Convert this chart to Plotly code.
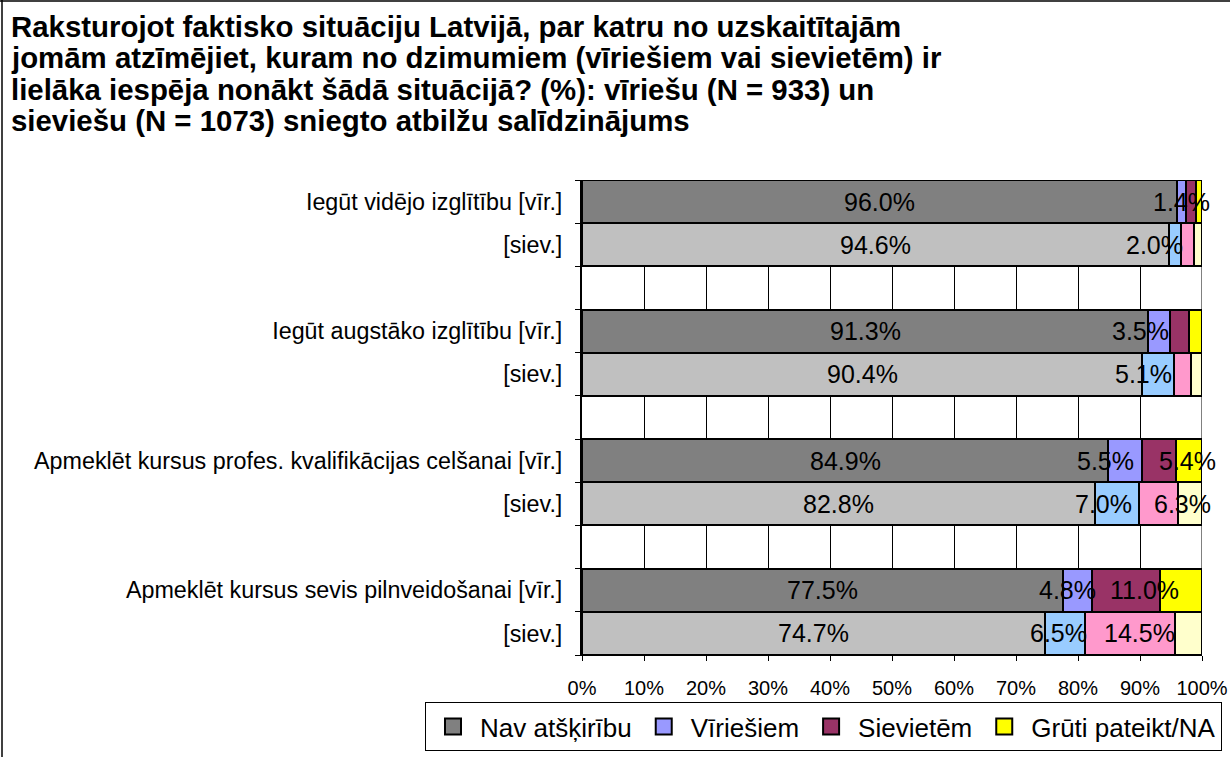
import plotly.graph_objects as go

# ---------------- data ----------------
row_labels = [
    "Iegūt vidējo izglītību [vīr.]", "[siev.]",
    "Iegūt augstāko izglītību [vīr.]", "[siev.]",
    "Apmeklēt kursus profes. kvalifikācijas celšanai [vīr.]", "[siev.]",
    "Apmeklēt kursus sevis pilnveidošanai [vīr.]", "[siev.]",
]
series_names = ["Nav atšķirību", "Vīriešiem", "Sievietēm", "Grūti pateikt/NA"]
nav_atskiribu = [96.0, 94.6, 91.3, 90.4, 84.9, 82.8, 77.5, 74.7]
viriesiem = [1.4, 2.0, 3.5, 5.1, 5.5, 7.0, 4.8, 6.5]
sievietem = [1.6, 2.1, 3.1, 2.7, 5.4, 6.3, 11.0, 14.5]
gruti_pateikt = [1.0, 1.3, 2.1, 1.8, 4.2, 3.9, 6.7, 4.3]
x_ticks = [0, 10, 20, 30, 40, 50, 60, 70, 80, 90, 100]
title_lines = [
    "Raksturojot faktisko situāciju Latvijā, par katru no uzskaitītajām",
    "jomām atzīmējiet, kuram no dzimumiem (vīriešiem vai sievietēm) ir",
    "lielāka iespēja nonākt šādā situācijā? (%): vīriešu (N = 933) un",
    "sieviešu (N = 1073) sniegto atbilžu salīdzinājums",
]

# ---------------- styles ----------------
colors_vir = ["#808080", "#9999FF", "#993366", "#FFFF00"]
colors_siev = ["#C0C0C0", "#99CCFF", "#FF99CC", "#FFFFCC"]
# which series carry data labels (index) and minimum value for display
label_rule = {0: 0.0, 1: 0.0, 2: 5.0}
# small horizontal offsets (px) of labels, as placed in the original
label_shift = {
    1: [0, -20, -18, -15, -20, -14, -10, -7],
    2: [0, 0, 0, 0, 28, 24, 18, 9],
}
FONT = "Liberation Sans, Arial, sans-serif"

L, R, T, B = 582, 28, 180, 102
W, H = 1230, 757
PW, PH = W - L - R, H - T - B


def px_x(px):
    return (px - L) / PW


def px_y(py):
    return (T + PH - py) / PH


series = [nav_atskiribu, viriesiem, sievietem, gruti_pateikt]
n = len(row_labels)
slots = [(i // 2) * 3 + (i % 2) for i in range(n)]
n_slots = slots[-1] + 1

fig = go.Figure()
base = [0.0] * n
annotations = []
for s, vals in enumerate(series):
    cols = [colors_vir[s] if i % 2 == 0 else colors_siev[s] for i in range(n)]
    fig.add_trace(go.Bar(
        y=slots, x=vals, base=base[:], orientation="h", width=1.0,
        marker=dict(color=cols, line=dict(color="black", width=2)),
        name=series_names[s], showlegend=False, hoverinfo="x",
    ))
    if s in label_rule:
        for i, v in enumerate(vals):
            if v >= label_rule[s]:
                annotations.append(dict(
                    x=base[i] + v / 2, y=slots[i], xref="x", yref="y",
                    text=f"{v:.1f}%", showarrow=False,
                    xshift=label_shift.get(s, [0] * n)[i],
                    font=dict(family=FONT, size=25, color="black"),
                ))
    base = [b + v for b, v in zip(base, vals)]

# legend entries (square markers)
for s in range(4):
    fig.add_trace(go.Scatter(
        x=[None], y=[None], mode="markers", name=series_names[s],
        marker=dict(symbol="square", size=16, color=colors_vir[s],
                    line=dict(color="black", width=2)),
        showlegend=True,
    ))

# title lines
for k, line in enumerate(title_lines):
    annotations.append(dict(
        x=px_x(9), y=px_y(26.5 + 31.3 * k), xref="paper", yref="paper",
        xanchor="left", yanchor="middle", showarrow=False, align="left",
        text=f"<b>{line}</b>",
        font=dict(family=FONT, size=29.4, color="black"),
    ))

shapes = [
    # 100% plot border line (grey)
    dict(type="line", xref="x", yref="paper", x0=100, x1=100, y0=0, y1=1,
         line=dict(color="#808080", width=2), layer="below"),
    # outer chart frame (left and top edges)
    dict(type="line", xref="paper", yref="paper", x0=px_x(2), x1=px_x(2),
         y0=px_y(0), y1=px_y(H + 5), line=dict(color="black", width=1.5)),
    dict(type="line", xref="paper", yref="paper", x0=px_x(0), x1=px_x(W + 5),
         y0=px_y(1), y1=px_y(1), line=dict(color="black", width=1.5)),
]

fig.update_layout(
    width=W, height=H,
    margin=dict(l=L, r=R, t=T, b=B, autoexpand=False),
    paper_bgcolor="white", plot_bgcolor="white",
    barmode="overlay", bargap=0,
    font=dict(family=FONT, color="black"),
    annotations=annotations, shapes=shapes,
    xaxis=dict(
        range=[0, 100], tickvals=x_ticks,
        ticktext=[f"{t}%" for t in x_ticks],
        showgrid=True, gridcolor="black", gridwidth=1,
        showline=True, linecolor="black", linewidth=1,
        ticks="outside", ticklen=5, tickcolor="black",
        ticklabelstandoff=10,
        tickfont=dict(family=FONT, size=20), zeroline=False,
    ),
    yaxis=dict(
        range=[n_slots - 0.5, -0.5], tickvals=slots, ticktext=row_labels,
        showgrid=False, zeroline=False, showline=True, linecolor="black",
        linewidth=2, ticks="", ticklabelstandoff=13,
        tickfont=dict(family=FONT, size=23.3),
    ),
    yaxis2=dict(
        overlaying="y", range=[n_slots - 0.5, -0.5],
        tickvals=[k - 0.5 for k in range(n_slots + 1)],
        showticklabels=False, ticks="outside", ticklen=6, tickcolor="black",
        showgrid=False, zeroline=False, showline=False, side="left",
    ),
    legend=dict(
        orientation="h", x=px_x(425), y=px_y(702), xanchor="left",
        yanchor="top", bordercolor="black", borderwidth=1,
        font=dict(family=FONT, size=26), itemsizing="trace", itemwidth=44,
        bgcolor="white", tracegroupgap=0,
    ),
)
# dummy trace on yaxis2 so the overlay axis is drawn
fig.add_trace(go.Scatter(x=[None], y=[None], yaxis="y2", showlegend=False))

fig.write_html(
    "out.html",
    config={"displayModeBar": False},
    post_script="document.body.style.margin='0';document.body.style.overflow='hidden';",
)
